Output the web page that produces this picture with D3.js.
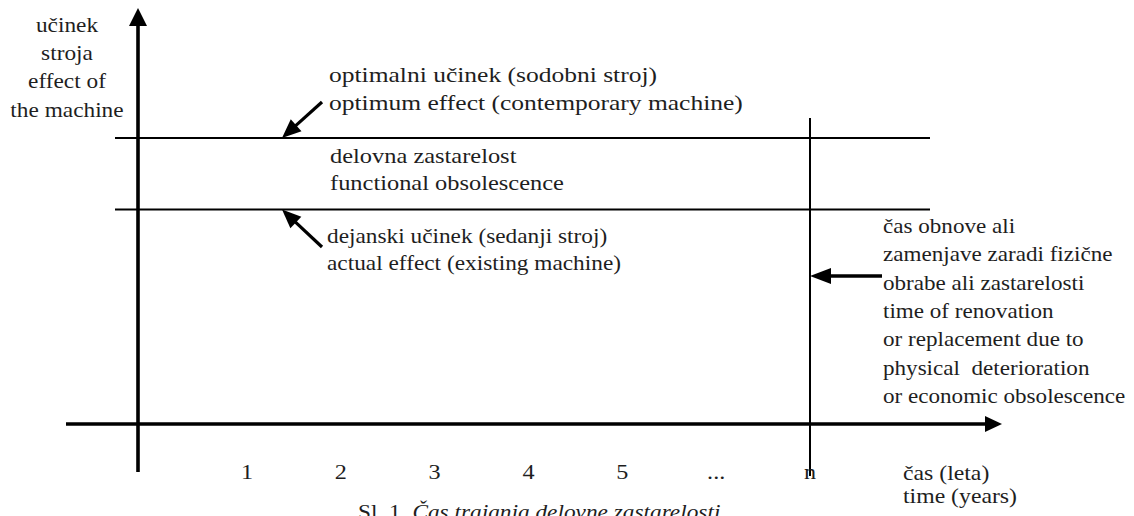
<!DOCTYPE html>
<html><head><meta charset="utf-8">
<script src="https://cdn.jsdelivr.net/npm/d3@7"></script>
<style>
html,body{margin:0;padding:0;background:#fff;}
</style></head>
<body>
<svg id="c" width="1134" height="516"></svg>
<script>
// ---- data ----
const categories = ["1","2","3","4","5","...","n"];
const effectLevels = [100, 75];           // optimum effect, actual effect (relative)
const levelLabels = [
  ["optimalni učinek (sodobni stroj)", "optimum effect (contemporary machine)"],
  ["dejanski učinek (sedanji stroj)", "actual effect (existing machine)"]
];
const gapLabel = ["delovna zastarelost", "functional obsolescence"];
const yAxisLabel = ["učinek", "stroja", "effect of", "the machine"];
const xAxisLabel = ["čas (leta)", "time (years)"];
const renewalLabel = ["čas obnove ali", "zamenjave zaradi fizične", "obrabe ali zastarelosti",
  "time of renovation", "or replacement due to", "physical  deterioration", "or economic obsolescence"];
const captionPrefix = "Sl. 1. ";
const captionText = "Čas trajanja delovne zastarelosti";

// ---- layout ----
const FONT = "'Liberation Serif', 'Times New Roman', 'DejaVu Serif', serif";
const svg = d3.select("#c");
const FS = 22;
const x = d3.scalePoint().domain(categories).range([247, 810]);
const y = d3.scaleLinear().domain([0, 100]).range([424, 138]);
const originX = 138;

function arrow(x1, y1, x2, y2, w, headLen, headHalf) {
  const dx = x2 - x1, dy = y2 - y1, L = Math.hypot(dx, dy);
  const ux = dx / L, uy = dy / L, px = -uy, py = ux;
  const bx = x2 - ux * headLen, by = y2 - uy * headLen;
  svg.append("line").attr("x1", x1).attr("y1", y1).attr("x2", bx + ux * 2).attr("y2", by + uy * 2)
    .attr("stroke", "#000").attr("stroke-width", w);
  svg.append("path").attr("d", `M${x2},${y2}L${bx + px * headHalf},${by + py * headHalf}L${bx - px * headHalf},${by - py * headHalf}Z`)
    .attr("fill", "#000");
}
function label(lines, x0, y0, dy, sx, anchor) {
  lines.forEach((t, i) => {
    svg.append("text")
      .attr("transform", `translate(${x0},${y0 + i * dy}) scale(${sx},1)`)
      .attr("text-anchor", anchor || "start")
      .attr("font-family", FONT).attr("fill", "#1e1e1e")
      .attr("font-size", FS)
      .style("white-space", "pre")
      .text(t);
  });
}

// level lines
effectLevels.forEach(v => {
  svg.append("line").attr("x1", 115).attr("x2", 930).attr("y1", y(v)).attr("y2", y(v))
    .attr("stroke", "#000").attr("stroke-width", 2);
});
// vertical line at n
svg.append("line").attr("x1", x("n")).attr("x2", x("n")).attr("y1", 118).attr("y2", 476)
  .attr("stroke", "#000").attr("stroke-width", 2);

// axes
arrow(originX, 472, originX, 8, 3.6, 18, 9);
arrow(66, y(0), 1002, y(0), 3.6, 17, 8);

// tick labels
svg.selectAll("text.tick").data(categories).join("text").attr("class", "tick")
  .attr("transform", d => `translate(${x(d)},479) scale(1.1,1)`)
  .attr("text-anchor", "middle").attr("font-size", FS)
  .attr("font-family", FONT).attr("fill", "#1e1e1e").text(d => d);

// annotation arrows
arrow(322, 102, 282, y(effectLevels[0]), 3.2, 19, 8);
arrow(322, 247, 282, y(effectLevels[1]), 3.2, 19, 8);
arrow(882, 276, x("n"), 276, 3.6, 21, 8);

// labels
label(yAxisLabel, 67, 32, 28.2, 1.06, "middle");
label(levelLabels[0], 329, 82, 28, 1.16);
label(gapLabel, 330, 163, 27, 1.11);
label(levelLabels[1], 327, 243, 27, 1.06);
label(renewalLabel, 883, 233, 28.3, 1.05);
label(xAxisLabel, 903, 480, 23, 1.08);

// caption
const cap = svg.append("text").attr("transform", `translate(358,519) scale(1.06,1)`)
  .attr("font-size", FS).attr("font-family", FONT).attr("fill", "#1e1e1e");
cap.append("tspan").text(captionPrefix);
cap.append("tspan").attr("font-style", "italic").text(captionText);
</script>
</body></html>
